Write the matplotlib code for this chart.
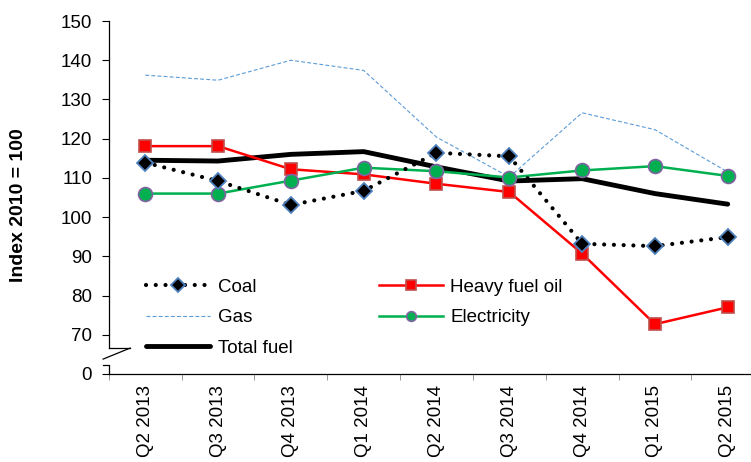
import numpy as np
import matplotlib.pyplot as plt
import matplotlib.transforms as mtransforms

plt.rcParams['font.family'] = ['Liberation Sans', 'DejaVu Sans']

quarters = ['Q2 2013', 'Q3 2013', 'Q4 2013', 'Q1 2014', 'Q2 2014',
            'Q3 2014', 'Q4 2014', 'Q1 2015', 'Q2 2015']
coal = [113.9, 109.2, 103.1, 106.7, 116.4, 115.5, 93.2, 92.6, 94.9]
heavy_fuel_oil = [118.1, 118.1, 112.2, 110.9, 108.5, 106.4, 90.7, 72.7, 77.0]
gas = [136.2, 134.9, 140.0, 137.4, 120.4, 110.2, 126.6, 122.3, 111.5]
electricity = [106.0, 106.0, 109.3, 112.6, 111.7, 110.1, 111.9, 113.0, 110.5]
total_fuel = [114.5, 114.3, 116.0, 116.7, 112.8, 109.2, 109.8, 106.0, 103.3]

ytick_vals = [60, 70, 80, 90, 100, 110, 120, 130, 140, 150]
ytick_labels = ['0', '70', '80', '90', '100', '110', '120', '130', '140', '150']

x = np.arange(len(quarters))

fig = plt.figure(figsize=(7.51, 4.62), dpi=100)
ax = fig.add_axes([0.145, 0.1905, 0.855, 0.764])

ax.plot(x, gas, '--', color='#5B9BD5', lw=0.8, dashes=(3.5, 2), label='Gas', zorder=2)
ax.plot(x, total_fuel, '-', color='black', lw=3.5, label='Total fuel',
        solid_capstyle='round', zorder=3)
ax.plot(x, heavy_fuel_oil, '-', color='#FF0000', lw=1.8, marker='s', ms=8,
        mfc='#FF0000', mec='#C0504D', mew=1.2, label='Heavy fuel oil', zorder=4)
ax.plot(x, electricity, '-', color='#00B050', lw=1.8, marker='o', ms=10,
        mfc='#00B050', mec='#8064A2', mew=1.2, label='Electricity', zorder=5)
ax.plot(x, coal, color='black', lw=3, dashes=(0.01, 2.33), marker='D', ms=8.5,
        mfc='black', mec='#4F81BD', mew=1.3, label='Coal',
        dash_capstyle='round', zorder=6)

ax.set_xlim(-0.5, 8.32)
ax.set_ylim(60, 150)

ax.set_xticks(x)
ax.set_xticklabels(quarters, rotation=90, fontsize=13.5)
ax.set_xticks(np.arange(-0.5, 8.5, 1), minor=True)
ax.tick_params(axis='x', which='major', length=0, pad=8)
ax.tick_params(axis='x', which='minor', length=4, color='#888888')

ax.set_yticks(ytick_vals)
ax.set_yticklabels(ytick_labels, fontsize=13.5)
ax.tick_params(axis='y', length=5, pad=7)

ax.spines['top'].set_visible(False)
ax.spines['right'].set_visible(False)
ax.spines['left'].set_bounds(66.6, 150)
ax.spines['left'].set_linewidth(0.9)
ax.spines['bottom'].set_linewidth(0.9)

# axis break
trans = mtransforms.blended_transform_factory(ax.transAxes, ax.transData)
ax.plot([0, 0.033], [66.6, 66.6], color='black', lw=0.9, transform=trans, clip_on=False)
ax.plot([-0.009, 0.033], [63.8, 66.6], color='black', lw=0.9, transform=trans, clip_on=False)
ax.plot([-0.009, 0, 0], [62.2, 62.2, 60], color='black', lw=0.9, transform=trans, clip_on=False)

ax.set_ylabel('Index 2010 = 100', fontsize=14, fontweight='bold')
ax.yaxis.set_label_coords(-0.128, 0.479)

handles, labels = ax.get_legend_handles_labels()
order = ['Coal', 'Gas', 'Total fuel', 'Heavy fuel oil', 'Electricity']
hmap = dict(zip(labels, handles))
leg = ax.legend([hmap[k] for k in order], order, ncol=2, frameon=False,
                fontsize=13.5, handlelength=3.4, columnspacing=4.62,
                labelspacing=0.72, handletextpad=0.4,
                loc='upper left', bbox_to_anchor=(0.032, 0.318))
for h in leg.legend_handles:
    h.set_markersize(7)

fig.savefig('out.png', dpi=100)
